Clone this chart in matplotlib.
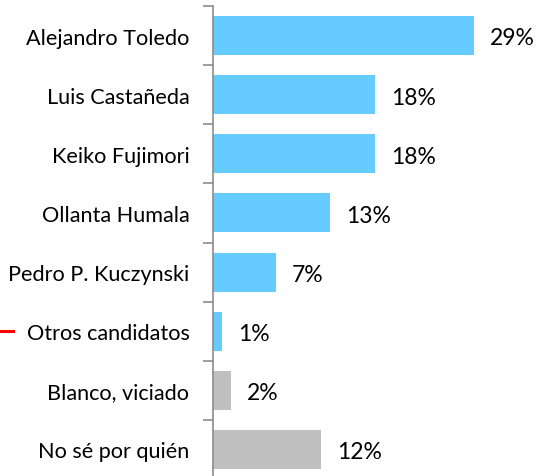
import matplotlib.pyplot as plt
from matplotlib.lines import Line2D
import numpy as np

categories = ["Alejandro Toledo", "Luis Castañeda", "Keiko Fujimori", "Ollanta Humala",
              "Pedro P. Kuczynski", "Otros candidatos", "Blanco, viciado", "No sé por quién"]
values = [29, 18, 18, 13, 7, 1, 2, 12]
colors = ["#66CCFF"] * 6 + ["#C0C0C0"] * 2

plt.rcParams['font.family'] = ['Lato', 'DejaVu Sans']

fig = plt.figure(figsize=(5.37, 4.77), dpi=100)
ax = fig.add_axes([213 / 537, -3 / 477, 317 / 537, 473 / 477])

y = np.arange(len(categories))
ax.barh(y, values, height=0.66, color=colors)
for yi, v in zip(y, values):
    ax.text(v + 1.8, yi + 0.04, f"{v}%", va='center', ha='left', fontsize=16.5)

ax.set_ylim(len(categories) - 0.5, -0.5)
ax.set_xlim(0, 317 / 9)
ax.set_yticks(y)
ax.set_yticklabels(categories, fontsize=15.6)
ax.tick_params(axis='y', which='major', length=0, pad=17)
ax.set_yticks(np.arange(-0.5, len(categories) - 0.5), minor=True)
ax.tick_params(axis='y', which='minor', length=7, width=1.2, color='#8c8c8c')
ax.set_xticks([])
for s in ['top', 'right', 'bottom']:
    ax.spines[s].set_visible(False)
ax.spines['left'].set_color('#8c8c8c')
ax.spines['left'].set_linewidth(1.2)

fig.add_artist(Line2D([0, 13 / 537], [1 - 332 / 477, 1 - 332 / 477], color='red', linewidth=2.2))

fig.savefig("out.png", dpi=100)
